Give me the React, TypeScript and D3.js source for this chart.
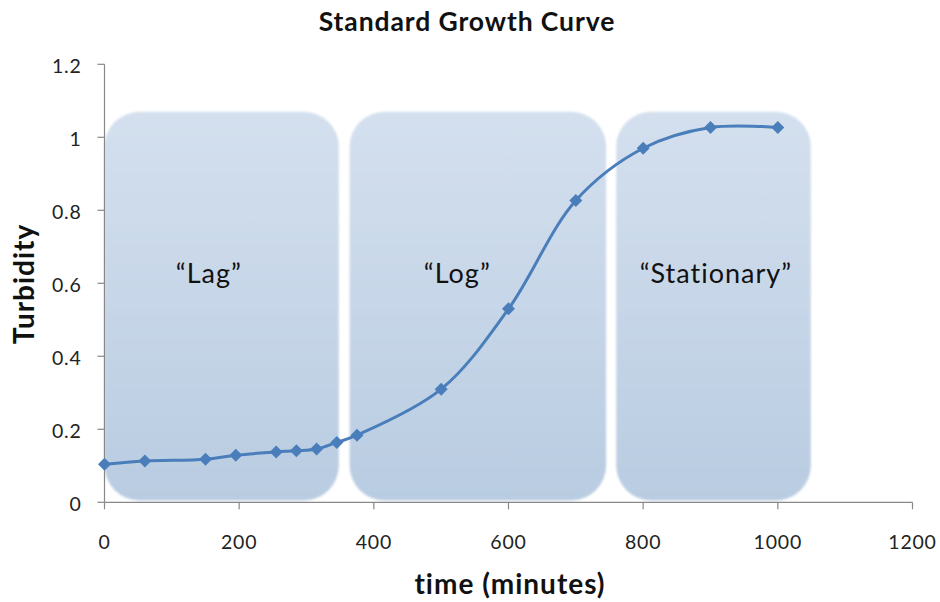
import React from "react";
import * as d3 from "d3";

const timeMinutes = [0, 60, 150, 195, 255, 285, 315, 345, 375, 500, 600, 700, 800, 900, 1000];
const turbidity = [0.104, 0.113, 0.118, 0.129, 0.138, 0.141, 0.146, 0.164, 0.184, 0.31, 0.53, 0.827, 0.97, 1.027, 1.027];
const xTicks = [0, 200, 400, 600, 800, 1000, 1200];
const yTicks = [0, 0.2, 0.4, 0.6, 0.8, 1, 1.2];
const phaseNames = ["\u201cLag\u201d", "\u201cLog\u201d", "\u201cStationary\u201d"];
const phaseStart = [0, 364, 760];
const phaseEnd = [348, 745, 1049];
const phaseTop = [1.07, 1.07, 1.07];
const phaseBottom = [0.005, 0.005, 0.005];
const phaseLabelX = [155, 524, 908];
const phaseLabelY = [0.601, 0.601, 0.601];

const W = 940;
const H = 602;
const FONT = "Lato, 'Open Sans', sans-serif";

export default function App() {
  const x = d3.scaleLinear().domain([0, 1200]).range([104.5, 912.5]);
  const y = d3.scaleLinear().domain([0, 1.2]).range([502.3, 64.3]);
  const pts: [number, number][] = timeMinutes.map((t, i) => [x(t), y(turbidity[i])]);
  const line = d3.line().curve(d3.curveCatmullRom.alpha(0.5))(pts) || "";
  const color = "#4a7ebb";
  const tickColor = "#888";
  const ds = 6.5;
  return (
    <svg
      width={W}
      height={H}
      style={{ position: "absolute", left: 0, top: 0, background: "#fff" }}
      fontFamily={FONT}
    >
      <defs>
        <linearGradient id="boxGrad" x1="0" y1="0" x2="0" y2="1">
          <stop offset="0%" stopColor="#d4e0ee" />
          <stop offset="100%" stopColor="#b9cce1" />
        </linearGradient>
        <filter id="soft" x="-5%" y="-5%" width="110%" height="110%">
          <feGaussianBlur stdDeviation="1.2" />
        </filter>
      </defs>
      <text x={467} y={31} textAnchor="middle" fontSize={26.5} fontWeight="bold" letterSpacing={0.9} fill="#111">
        Standard Growth Curve
      </text>
      {phaseNames.map((n, i) => (
        <rect
          key={"b" + i}
          x={x(phaseStart[i])}
          y={y(phaseTop[i])}
          width={x(phaseEnd[i]) - x(phaseStart[i])}
          height={y(phaseBottom[i]) - y(phaseTop[i])}
          rx={35}
          ry={35}
          fill="url(#boxGrad)"
          filter="url(#soft)"
        />
      ))}
      {/* axes */}
      <line x1={x(0)} x2={x(0)} y1={y(0)} y2={y(1.2)} stroke={tickColor} strokeWidth={1.2} />
      <line x1={x(0)} x2={x(1200)} y1={y(0)} y2={y(0)} stroke={tickColor} strokeWidth={1.2} />
      {yTicks.map((t) => (
        <g key={"y" + t}>
          <line x1={x(0) - 7} x2={x(0)} y1={y(t)} y2={y(t)} stroke={tickColor} strokeWidth={1.2} />
          <text x={x(0) - 23} y={y(t)} dy="0.45em" textAnchor="end" fontSize={19.5} letterSpacing={0.8} fill="#222">
            {t === 0 || t === 1 ? String(t) : t.toFixed(1)}
          </text>
        </g>
      ))}
      {xTicks.map((t) => (
        <g key={"x" + t}>
          <line x1={x(t)} x2={x(t)} y1={y(0)} y2={y(0) + 7} stroke={tickColor} strokeWidth={1.2} />
          <text x={x(t)} y={y(0) + 47} textAnchor="middle" fontSize={19.5} letterSpacing={0.8} fill="#222">
            {String(t)}
          </text>
        </g>
      ))}
      {phaseNames.map((n, i) => (
        <text
          key={"l" + i}
          x={x(phaseLabelX[i])}
          y={y(phaseLabelY[i])}
          textAnchor="middle"
          fontSize={27}
          letterSpacing={1}
          fill="#111"
        >
          {n}
        </text>
      ))}
      <path d={line} fill="none" stroke={color} strokeWidth={3} />
      {pts.map(([px, py], i) => (
        <path
          key={"m" + i}
          d={`M${px},${py - ds}L${px + ds},${py}L${px},${py + ds}L${px - ds},${py}Z`}
          fill={color}
        />
      ))}
      <text x={510} y={594} textAnchor="middle" fontSize={28} fontWeight="bold" letterSpacing={1} fill="#111">
        time (minutes)
      </text>
      <text
        transform={`translate(34,284) rotate(-90)`}
        textAnchor="middle"
        fontSize={28}
        fontWeight="bold"
        letterSpacing={1}
        fill="#111"
      >
        Turbidity
      </text>
    </svg>
  );
}
